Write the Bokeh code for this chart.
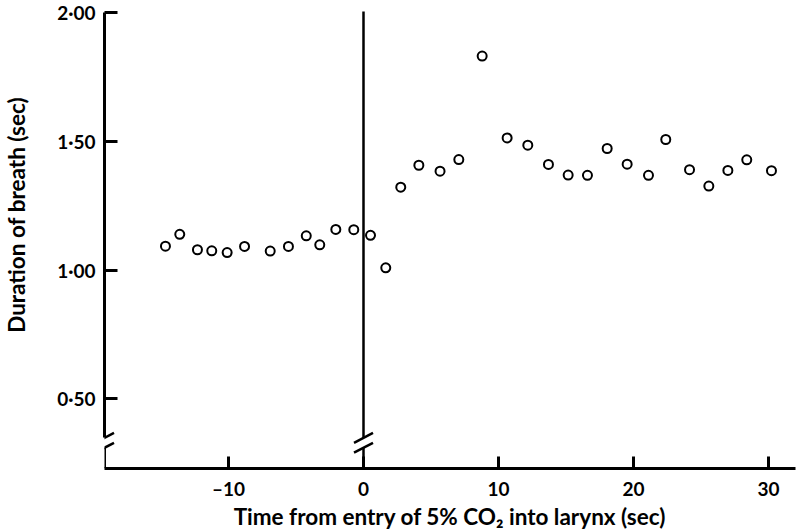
from bokeh.plotting import figure
from bokeh.models import Range1d, LinearAxis, FixedTicker
from bokeh.embed import file_html
from bokeh.resources import INLINE

# ---- data ----
time_s = [-14.67, -13.61, -12.30, -11.24, -10.10, -8.81, -6.91, -5.56, -4.24, -3.24,
          -2.05, -0.72, 0.52, 1.65, 2.76, 4.10, 5.67, 7.06, 8.79, 10.64,
          12.17, 13.70, 15.16, 16.59, 18.05, 19.53, 21.11, 22.39, 24.15, 25.58,
          26.99, 28.39, 30.22]
duration_s = [1.093, 1.139, 1.079, 1.075, 1.068, 1.092, 1.074, 1.092, 1.133, 1.098,
              1.158, 1.157, 1.135, 1.009, 1.322, 1.407, 1.384, 1.429, 1.831, 1.513,
              1.485, 1.410, 1.369, 1.368, 1.472, 1.411, 1.368, 1.507, 1.390, 1.326,
              1.387, 1.428, 1.386]
co2_entry = 0.0

y_ticks = [0.5, 1.0, 1.5, 2.0]
y_tick_labels = ["0\u00b750", "1\u00b700", "1\u00b750", "2\u00b700"]
x_ticks = [-10, 0, 10, 20, 30]
x_tick_labels = ["\u201310", "0", "10", "20", "30"]

x_title = "Time from entry of 5% CO\u2082 into larynx (sec)"
y_title = "Duration of breath (sec)"

# ---- layout ----
W, H = 804, 532
ML, MR, MT, MB = 104, 9, 10, 58
X0, X1 = -19.185, 32.0
Y0, Y1 = 0.2299, 2.0077
px_x = (W - ML - MR) / (X1 - X0)
px_y = (H - MT - MB) / (Y1 - Y0)
FONT = "Lato"

p = figure(width=W, height=H, x_range=Range1d(X0, X1), y_range=Range1d(Y0, Y1),
           output_backend="svg", toolbar_location=None,
           x_axis_location=None, y_axis_location=None,
           min_border_left=ML, min_border_right=MR, min_border_top=MT, min_border_bottom=MB)
p.outline_line_color = None
p.background_fill_color = "white"
p.border_fill_color = "white"
p.grid.visible = False

# axis break position (pixels from frame top)
gap_hi = Y1 - 433 / px_y
gap_lo = Y1 - 443 / px_y
dx = 9.5 / px_x
dy = 5.0 / px_y
y_top = Y1 - 2 / px_y

yax = LinearAxis(ticker=FixedTicker(ticks=y_ticks), bounds=(gap_hi, y_top))
yax.major_label_overrides = dict(zip(y_ticks, y_tick_labels))
yax.axis_line_width = 3
yax.axis_line_color = "black"
yax.major_tick_in = 13
yax.major_tick_out = 0
yax.major_tick_line_width = 3
yax.minor_tick_line_color = None
yax.major_label_standoff = 9
yax.major_label_text_font = FONT
yax.major_label_text_font_size = "19px"
yax.major_label_text_font_style = "bold"
yax.major_label_text_color = "black"
# leading no-break spaces lift the centred title to where the original sits
yax.axis_label = "\u00a0" * 9 + y_title
yax.axis_label_standoff = 24
yax.axis_label_text_font = FONT
yax.axis_label_text_font_size = "22.5px"
yax.axis_label_text_font_style = "bold"
yax.axis_label_text_color = "black"
p.add_layout(yax, "left")

xax = LinearAxis(ticker=FixedTicker(ticks=x_ticks))
xax.major_label_overrides = dict(zip(x_ticks, x_tick_labels))
xax.axis_line_width = 3
xax.axis_line_color = "black"
xax.major_tick_in = 12
xax.major_tick_out = 0
xax.major_tick_line_width = 3
xax.minor_tick_line_color = None
xax.major_label_standoff = 8
xax.major_label_text_font = FONT
xax.major_label_text_font_size = "19px"
xax.major_label_text_font_style = "bold"
xax.major_label_text_color = "black"
xax.axis_label = x_title
xax.axis_label_standoff = 0
xax.axis_label_text_font = FONT
xax.axis_label_text_font_size = "22.5px"
xax.axis_label_text_font_style = "bold"
xax.axis_label_text_color = "black"
p.add_layout(xax, "below")

# y-axis line below the break
p.segment(x0=[X0], y0=[Y0], x1=[X0], y1=[gap_lo], line_width=3, line_color="black")
# vertical line at CO2 entry, with break
p.segment(x0=[co2_entry, co2_entry], y0=[Y0, gap_hi], x1=[co2_entry, co2_entry],
          y1=[gap_lo, Y1 - 1 / px_y], line_width=2.5, line_color="black")
# break strokes
for xc in (X0, co2_entry):
    p.segment(x0=[xc - dx, xc - dx], y0=[gap_lo - dy, gap_hi - dy],
              x1=[xc + dx, xc + dx], y1=[gap_lo + dy, gap_hi + dy],
              line_width=2.5, line_color="black")

p.scatter(time_s, duration_s, marker="circle", size=9, fill_color=None,
          line_color="black", line_width=2)

open("out.html", "w").write(file_html(p, INLINE))
